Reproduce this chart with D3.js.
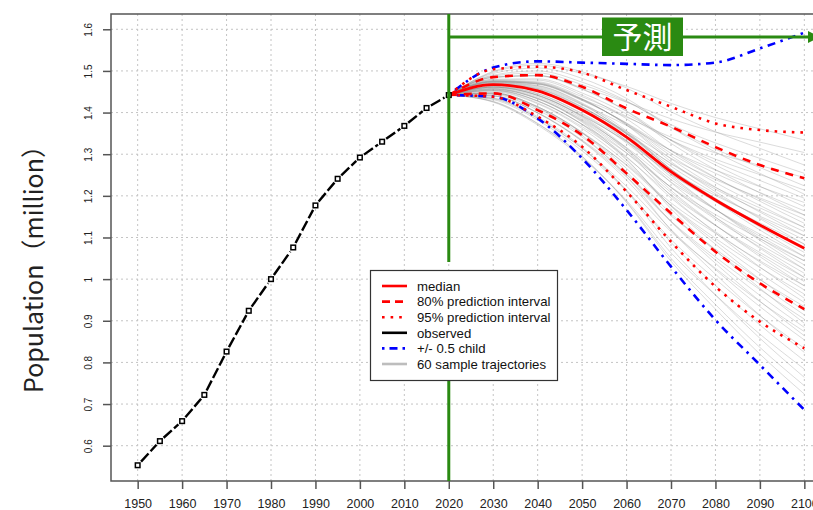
<!DOCTYPE html>
<html>
<head>
<meta charset="utf-8">
<script src="https://cdn.jsdelivr.net/npm/d3@7/dist/d3.min.js"></script>
<style>
  html, body { margin: 0; padding: 0; background: #fff; }
  svg { display: block; }
</style>
</head>
<body>
<svg id="chart" width="813" height="510"></svg>
<script>
// ---------------- DATA ----------------
const xTicks = [1950,1960,1970,1980,1990,2000,2010,2020,2030,2040,2050,2060,2070,2080,2090,2100];
const yTicks = [0.6,0.7,0.8,0.9,1.0,1.1,1.2,1.3,1.4,1.5,1.6];
const yTickLabels = ["0.6","0.7","0.8","0.9","1","1.1","1.2","1.3","1.4","1.5","1.6"];

const obsYears = [1950,1955,1960,1965,1970,1975,1980,1985,1990,1995,2000,2005,2010,2015,2020];
const obsPop   = [0.553,0.611,0.659,0.722,0.826,0.924,1.000,1.076,1.177,1.241,1.292,1.330,1.368,1.411,1.442];

const fcYears        = [2020,2030,2040,2050,2060,2070,2080,2090,2100];
const median         = [1.442,1.467,1.452,1.406,1.341,1.258,1.190,1.130,1.074];
const pi80Upper      = [1.442,1.485,1.490,1.462,1.410,1.366,1.317,1.274,1.242];
const pi80Lower      = [1.442,1.446,1.406,1.346,1.254,1.158,1.066,0.990,0.928];
const pi95Upper      = [1.442,1.504,1.510,1.496,1.454,1.414,1.374,1.358,1.352];
const pi95Lower      = [1.442,1.438,1.390,1.318,1.210,1.090,0.982,0.898,0.834];
const halfChildUpper = [1.442,1.508,1.523,1.520,1.517,1.514,1.520,1.554,1.592];
const halfChildLower = [1.442,1.438,1.386,1.290,1.166,1.030,0.902,0.794,0.686];

// 60 sample trajectories, values for 2030..2100 (2020 = last observed)
const trajYears = [2030,2040,2050,2060,2070,2080,2090,2100];
const trajectories = [
 [1.497,1.514,1.494,1.463,1.422,1.388,1.361,1.334],
 [1.485,1.489,1.460,1.425,1.385,1.353,1.329,1.304],
 [1.499,1.518,1.498,1.459,1.402,1.354,1.314,1.274],
 [1.488,1.495,1.467,1.426,1.371,1.327,1.290,1.254],
 [1.474,1.469,1.432,1.389,1.341,1.303,1.273,1.244],
 [1.490,1.500,1.473,1.428,1.365,1.312,1.268,1.224],
 [1.477,1.474,1.438,1.391,1.334,1.288,1.251,1.214],
 [1.494,1.507,1.482,1.434,1.364,1.305,1.254,1.204],
 [1.480,1.481,1.447,1.397,1.334,1.281,1.237,1.194],
 [1.470,1.460,1.419,1.369,1.309,1.262,1.222,1.184],
 [1.484,1.488,1.456,1.404,1.333,1.274,1.223,1.174],
 [1.474,1.468,1.429,1.375,1.309,1.254,1.208,1.164],
 [1.485,1.489,1.457,1.403,1.326,1.263,1.207,1.154],
 [1.467,1.453,1.409,1.355,1.290,1.239,1.195,1.154],
 [1.474,1.469,1.430,1.374,1.302,1.243,1.192,1.144],
 [1.479,1.478,1.442,1.385,1.308,1.244,1.187,1.134],
 [1.466,1.452,1.407,1.349,1.278,1.220,1.171,1.124],
 [1.475,1.470,1.431,1.373,1.296,1.232,1.177,1.124],
 [1.468,1.456,1.412,1.352,1.277,1.216,1.164,1.114],
 [1.476,1.471,1.432,1.371,1.289,1.221,1.161,1.104],
 [1.461,1.441,1.392,1.331,1.259,1.201,1.151,1.104],
 [1.468,1.457,1.413,1.350,1.271,1.205,1.148,1.094],
 [1.476,1.472,1.433,1.370,1.282,1.210,1.145,1.084],
 [1.461,1.442,1.393,1.330,1.252,1.190,1.135,1.084],
 [1.469,1.458,1.414,1.349,1.264,1.194,1.132,1.074],
 [1.463,1.446,1.398,1.333,1.252,1.186,1.128,1.074],
 [1.471,1.462,1.419,1.352,1.264,1.190,1.125,1.064],
 [1.458,1.435,1.383,1.316,1.233,1.167,1.108,1.054],
 [1.473,1.465,1.423,1.356,1.263,1.187,1.118,1.054],
 [1.462,1.445,1.396,1.327,1.239,1.167,1.103,1.044],
 [1.453,1.427,1.372,1.303,1.221,1.155,1.097,1.044],
 [1.467,1.454,1.408,1.338,1.245,1.168,1.098,1.034],
 [1.457,1.434,1.381,1.309,1.220,1.148,1.083,1.024],
 [1.472,1.464,1.421,1.349,1.250,1.168,1.093,1.024],
 [1.459,1.438,1.386,1.313,1.220,1.144,1.077,1.014],
 [1.452,1.423,1.366,1.292,1.202,1.129,1.064,1.004],
 [1.467,1.453,1.406,1.332,1.232,1.149,1.074,1.004],
 [1.456,1.433,1.379,1.303,1.208,1.129,1.059,0.994],
 [1.446,1.412,1.351,1.275,1.183,1.110,1.044,0.984],
 [1.461,1.442,1.391,1.315,1.213,1.130,1.054,0.984],
 [1.454,1.428,1.372,1.294,1.195,1.114,1.041,0.974],
 [1.447,1.414,1.353,1.273,1.177,1.098,1.028,0.964],
 [1.461,1.441,1.389,1.309,1.200,1.111,1.029,0.954],
 [1.450,1.421,1.362,1.280,1.176,1.091,1.014,0.944],
 [1.440,1.400,1.334,1.251,1.152,1.072,0.999,0.934],
 [1.454,1.428,1.371,1.286,1.175,1.084,1.000,0.924],
 [1.447,1.414,1.352,1.266,1.157,1.068,0.988,0.914],
 [1.440,1.399,1.332,1.245,1.139,1.053,0.975,0.904],
 [1.456,1.433,1.377,1.288,1.169,1.069,0.978,0.894],
 [1.443,1.406,1.341,1.252,1.138,1.046,0.961,0.884],
 [1.433,1.386,1.314,1.223,1.114,1.026,0.946,0.874],
 [1.447,1.414,1.351,1.258,1.138,1.038,0.947,0.864],
 [1.440,1.399,1.331,1.238,1.119,1.023,0.934,0.854],
 [1.431,1.382,1.308,1.212,1.095,1.000,0.912,0.834],
 [1.445,1.410,1.345,1.247,1.118,1.012,0.913,0.824],
 [1.434,1.387,1.314,1.214,1.088,0.985,0.890,0.804],
 [1.425,1.370,1.291,1.189,1.063,0.962,0.868,0.784],
 [1.435,1.390,1.317,1.211,1.075,0.962,0.858,0.764],
 [1.426,1.373,1.294,1.186,1.050,0.939,0.836,0.744],
 [1.427,1.374,1.295,1.184,1.043,0.928,0.820,0.724]
];

const legendLabels = ["median","80% prediction interval","95% prediction interval","observed","+/- 0.5 child","60 sample trajectories"];
const yLabel = "Population（million）";
const forecastLabel = "予測";

// ---------------- LAYOUT ----------------
const svg = d3.select("#chart");
const L = 111, T = 14, B = 481, R = 831;
const x = d3.scaleLinear().domain([1944, 2106]).range([L, R]);
const y = d3.scaleLinear().domain([0.5152, 1.6367]).range([B, T]);

const RED = "#ff0000", BLUE = "#0000ff", GREEN = "#2a8a12";
const DASH = "8,7", DOT = "2.6,6", DOTDASH = "2.5,5.5,8,5.5";

// grid
const grid = svg.append("g");
grid.selectAll("line.vg").data(xTicks).join("line")
  .attr("x1", d => x(d)).attr("x2", d => x(d)).attr("y1", T).attr("y2", B)
  .attr("stroke", "#c4c4c4").attr("stroke-width", 1).attr("stroke-dasharray", "2,3");
grid.selectAll("line.hg").data(yTicks).join("line")
  .attr("x1", L).attr("x2", R).attr("y1", d => y(d)).attr("y2", d => y(d))
  .attr("stroke", "#c4c4c4").attr("stroke-width", 1).attr("stroke-dasharray", "2,3");

// trajectories
const line = d3.line().x(d => x(d[0])).y(d => y(d[1])).curve(d3.curveMonotoneX);
const trajG = svg.append("g");
trajectories.forEach(tr => {
  const pts = [[2020, obsPop[obsPop.length-1]]].concat(trajYears.map((yr, i) => [yr, tr[i]]));
  trajG.append("path").attr("d", line(pts)).attr("fill", "none")
    .attr("stroke", "rgb(135,135,135)").attr("stroke-opacity", 0.3).attr("stroke-width", 1);
});

function series(vals, color, dash, width) {
  svg.append("path").attr("d", line(fcYears.map((yr, i) => [yr, vals[i]])))
    .attr("fill", "none").attr("stroke", color).attr("stroke-width", width)
    .attr("stroke-dasharray", dash).attr("stroke-linecap", "butt");
}
series(halfChildUpper, BLUE, DOTDASH, 2.6);
series(halfChildLower, BLUE, DOTDASH, 2.6);
series(pi95Upper, RED, DOT, 2.6);
series(pi95Lower, RED, DOT, 2.6);
series(pi80Upper, RED, DASH, 2.6);
series(pi80Lower, RED, DASH, 2.6);
series(median, RED, null, 2.8);

// observed (type "b": segments with gaps around points)
const obsG = svg.append("g");
for (let i = 0; i < obsYears.length - 1; i++) {
  const x0 = x(obsYears[i]), y0 = y(obsPop[i]), x1 = x(obsYears[i+1]), y1 = y(obsPop[i+1]);
  const len = Math.hypot(x1 - x0, y1 - y0), g = 5;
  const ux = (x1 - x0) / len, uy = (y1 - y0) / len;
  obsG.append("line")
    .attr("x1", x0 + ux * g).attr("y1", y0 + uy * g)
    .attr("x2", x1 - ux * g).attr("y2", y1 - uy * g)
    .attr("stroke", "#000").attr("stroke-width", 2.4).attr("stroke-dasharray", "11,3");
}
obsG.selectAll("rect").data(obsYears.map((yr, i) => [yr, obsPop[i]])).join("rect")
  .attr("x", d => x(d[0]) - 2.3).attr("y", d => y(d[1]) - 2.3)
  .attr("width", 4.6).attr("height", 4.6)
  .attr("fill", "#fff").attr("stroke", "#000").attr("stroke-width", 1.5);

// axes
const xAxis = svg.append("g").attr("transform", `translate(0,${B})`)
  .call(d3.axisBottom(x).tickValues(xTicks).tickFormat(d3.format("d")).tickSize(8).tickSizeOuter(0));
xAxis.select(".domain").remove();
xAxis.selectAll(".tick line").attr("stroke", "#555").attr("stroke-width", 1.5);
xAxis.selectAll(".tick text").attr("y", 27).attr("dy", null)
  .attr("font-family", "Liberation Sans, Arial, sans-serif").attr("font-size", 12.5).attr("fill", "#222");

const yAxis = svg.append("g").attr("transform", `translate(${L},0)`)
  .call(d3.axisLeft(y).tickValues(yTicks).tickFormat((d, i) => yTickLabels[i]).tickSize(8).tickSizeOuter(0));
yAxis.select(".domain").remove();
yAxis.selectAll(".tick line").attr("stroke", "#555").attr("stroke-width", 1.5);
yAxis.selectAll(".tick text").attr("x", null).attr("dy", null)
  .attr("transform", "translate(-19.5,0) rotate(-90)").attr("text-anchor", "middle")
  .attr("font-family", "Liberation Sans, Arial, sans-serif").attr("font-size", 10).attr("fill", "#222");

// box
svg.append("rect").attr("x", L).attr("y", T).attr("width", R - L).attr("height", B - T)
  .attr("fill", "none").attr("stroke", "#555").attr("stroke-width", 1.5);

// y label
svg.append("text").attr("transform", `translate(43,393) rotate(-90)`).attr("text-anchor", "start")
  .attr("font-family", "Noto Sans CJK JP, sans-serif").attr("font-size", 25).attr("fill", "#222")
  .text(yLabel);

// green forecast markers
const gx = x(2020);
svg.append("line").attr("x1", gx).attr("x2", gx).attr("y1", T).attr("y2", 262)
  .attr("stroke", GREEN).attr("stroke-width", 3);
svg.append("line").attr("x1", gx).attr("x2", gx).attr("y1", 381).attr("y2", B)
  .attr("stroke", GREEN).attr("stroke-width", 3);
const ay = 37;
svg.append("line").attr("x1", gx).attr("x2", 812).attr("y1", ay).attr("y2", ay)
  .attr("stroke", GREEN).attr("stroke-width", 3);
svg.append("path").attr("d", `M808,${ay-6}L820,${ay}L808,${ay+6}Z`).attr("fill", GREEN);
svg.append("rect").attr("x", 602).attr("y", 17.5).attr("width", 81).attr("height", 38.5).attr("fill", GREEN);
svg.append("text").attr("x", 642.5).attr("y", 37).attr("dy", "0.36em").attr("text-anchor", "middle")
  .attr("font-family", "Noto Sans CJK JP, sans-serif").attr("font-size", 30).attr("fill", "#fff")
  .text(forecastLabel);

// legend
const lg = svg.append("g");
lg.append("rect").attr("x", 370.5).attr("y", 270.5).attr("width", 187).attr("height", 110)
  .attr("fill", "#fff").attr("stroke", "#333").attr("stroke-width", 1.2);
const legStyles = [
  {c: RED, d: null, w: 2.6},
  {c: RED, d: "8,5", w: 2.6},
  {c: RED, d: "2.6,6", w: 2.6},
  {c: "#000", d: null, w: 2.6},
  {c: BLUE, d: "2.5,5,8,5", w: 2.6},
  {c: "#bdbdbd", d: null, w: 2.6}
];
legendLabels.forEach((lab, i) => {
  const yy = 286 + i * 15.6;
  lg.append("line").attr("x1", 382).attr("x2", 407).attr("y1", yy).attr("y2", yy)
    .attr("stroke", legStyles[i].c).attr("stroke-width", legStyles[i].w)
    .attr("stroke-dasharray", legStyles[i].d);
  lg.append("text").attr("x", 417).attr("y", yy).attr("dy", "0.36em")
    .attr("font-family", "Liberation Sans, Arial, sans-serif").attr("font-size", 13.2).attr("fill", "#111")
    .text(lab);
});
</script>
</body>
</html>
